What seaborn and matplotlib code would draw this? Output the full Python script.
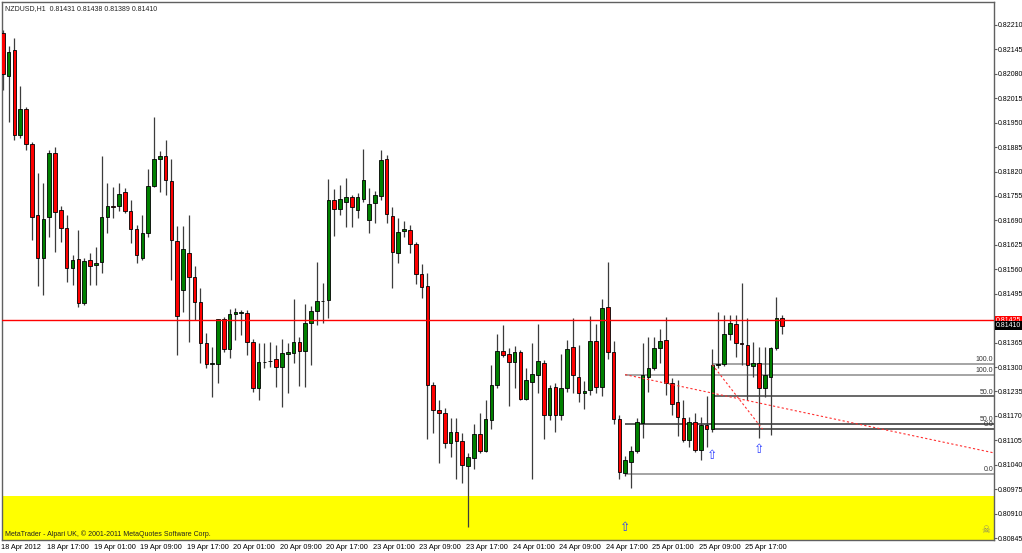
import numpy as np
import pandas as pd
import seaborn as sns
import matplotlib
matplotlib.use('Agg')
import matplotlib.pyplot as plt
import matplotlib.transforms as mtrans

# NZDUSD H1 bars, 18 Apr 2012 09:00 .. 25 Apr 2012 23:00
opens = [0.82189, 0.82074, 0.82144, 0.81917, 0.81987, 0.81893, 0.81705, 0.81590, 0.81699, 0.81869,
         0.81718, 0.81670, 0.81564, 0.81588, 0.81471, 0.81585, 0.81572, 0.81580, 0.81699, 0.81729,
         0.81729, 0.81766, 0.81715, 0.81667, 0.81590, 0.81657, 0.81782, 0.81854, 0.81862, 0.81795,
         0.81635, 0.81505, 0.81604, 0.81540, 0.81473, 0.81364, 0.81308, 0.81308, 0.81428, 0.81348,
         0.81441, 0.81444, 0.81444, 0.81367, 0.81244, 0.81314, 0.81316, 0.81322, 0.81300, 0.81335,
         0.81338, 0.81367, 0.81343, 0.81417, 0.81449, 0.81476, 0.81478, 0.81744, 0.81721, 0.81739,
         0.81752, 0.81718, 0.81747, 0.81691, 0.81737, 0.81755, 0.81854, 0.81702, 0.81604, 0.81662,
         0.81665, 0.81627, 0.81548, 0.81516, 0.81252, 0.81186, 0.81178, 0.81098, 0.81127, 0.81103,
         0.81037, 0.81058, 0.81122, 0.81077, 0.81159, 0.81252, 0.81343, 0.81335, 0.81314, 0.81340,
         0.81215, 0.81260, 0.81279, 0.81311, 0.81173, 0.81247, 0.81173, 0.81244, 0.81353, 0.81274,
         0.81231, 0.81239, 0.81369, 0.81247, 0.81460, 0.81340, 0.81162, 0.81018, 0.81048, 0.81077,
         0.81151, 0.81274, 0.81298, 0.81351, 0.81372, 0.81258, 0.81207, 0.81165, 0.81106, 0.81154,
         0.81080, 0.81146, 0.81135, 0.81306, 0.81308, 0.81388, 0.81415, 0.81364, 0.81359, 0.81303,
         0.81311, 0.81244, 0.81274, 0.81351, 0.81431]
highs = [0.82197, 0.82154, 0.82175, 0.82048, 0.81992, 0.81899, 0.81816, 0.81790, 0.81877, 0.81885,
         0.81729, 0.81705, 0.81598, 0.81665, 0.81590, 0.81604, 0.81619, 0.81862, 0.81790, 0.81779,
         0.81790, 0.81776, 0.81744, 0.81678, 0.81705, 0.81827, 0.81965, 0.81875, 0.81904, 0.81854,
         0.81675, 0.81675, 0.81705, 0.81569, 0.81510, 0.81391, 0.81353, 0.81428, 0.81433, 0.81455,
         0.81457, 0.81452, 0.81452, 0.81375, 0.81364, 0.81364, 0.81367, 0.81359, 0.81375, 0.81364,
         0.81481, 0.81380, 0.81468, 0.81463, 0.81580, 0.81524, 0.81800, 0.81774, 0.81784, 0.81803,
         0.81758, 0.81763, 0.81880, 0.81776, 0.81768, 0.81877, 0.81864, 0.81726, 0.81697, 0.81689,
         0.81678, 0.81633, 0.81574, 0.81550, 0.81260, 0.81212, 0.81191, 0.81165, 0.81165, 0.81125,
         0.81072, 0.81149, 0.81178, 0.81212, 0.81306, 0.81388, 0.81412, 0.81351, 0.81356, 0.81345,
         0.81298, 0.81364, 0.81415, 0.81319, 0.81252, 0.81258, 0.81335, 0.81372, 0.81431, 0.81359,
         0.81263, 0.81436, 0.81415, 0.81481, 0.81580, 0.81369, 0.81173, 0.81064, 0.81090, 0.81165,
         0.81364, 0.81380, 0.81380, 0.81401, 0.81433, 0.81271, 0.81266, 0.81212, 0.81167, 0.81178,
         0.81167, 0.81223, 0.81348, 0.81447, 0.81439, 0.81439, 0.81439, 0.81524, 0.81431, 0.81367,
         0.81353, 0.81353, 0.81353, 0.81486, 0.81438]
lows = [0.82037, 0.81952, 0.81904, 0.81909, 0.81877, 0.81638, 0.81516, 0.81492, 0.81646, 0.81606,
        0.81633, 0.81526, 0.81518, 0.81460, 0.81465, 0.81518, 0.81518, 0.81550, 0.81657, 0.81697,
        0.81715, 0.81710, 0.81630, 0.81577, 0.81585, 0.81646, 0.81779, 0.81766, 0.81758, 0.81532,
        0.81332, 0.81447, 0.81367, 0.81425, 0.81311, 0.81298, 0.81220, 0.81258, 0.81340, 0.81324,
        0.81372, 0.81385, 0.81332, 0.81234, 0.81212, 0.81298, 0.81300, 0.81247, 0.81194, 0.81231,
        0.81311, 0.81250, 0.81247, 0.81306, 0.81412, 0.81417, 0.81431, 0.81649, 0.81705, 0.81673,
        0.81673, 0.81697, 0.81739, 0.81657, 0.81683, 0.81744, 0.81683, 0.81510, 0.81577, 0.81646,
        0.81604, 0.81521, 0.81484, 0.81109, 0.81125, 0.81045, 0.81085, 0.81061, 0.81002, 0.80992,
        0.80875, 0.81029, 0.81072, 0.81074, 0.81135, 0.81244, 0.81327, 0.81197, 0.81244, 0.81212,
        0.81212, 0.81002, 0.81231, 0.81109, 0.81159, 0.81127, 0.81159, 0.81234, 0.81231, 0.81207,
        0.81189, 0.81226, 0.81231, 0.81223, 0.81322, 0.81149, 0.81002, 0.81010, 0.80978, 0.81072,
        0.81111, 0.81234, 0.81292, 0.81311, 0.81226, 0.81173, 0.81117, 0.81101, 0.81087, 0.81074,
        0.81053, 0.81087, 0.81127, 0.81298, 0.81303, 0.81372, 0.81327, 0.81306, 0.81212, 0.81274,
        0.81111, 0.81220, 0.81119, 0.81345, 0.81389]
closes = [0.82080, 0.82138, 0.81917, 0.81987, 0.81893, 0.81699, 0.81590, 0.81694, 0.81869, 0.81713,
          0.81670, 0.81564, 0.81585, 0.81471, 0.81582, 0.81569, 0.81577, 0.81699, 0.81729, 0.81726,
          0.81760, 0.81715, 0.81667, 0.81598, 0.81657, 0.81782, 0.81854, 0.81862, 0.81798, 0.81638,
          0.81436, 0.81614, 0.81540, 0.81473, 0.81364, 0.81308, 0.81311, 0.81428, 0.81348, 0.81441,
          0.81447, 0.81444, 0.81367, 0.81244, 0.81314, 0.81313, 0.81315, 0.81300, 0.81338, 0.81340,
          0.81367, 0.81343, 0.81417, 0.81449, 0.81476, 0.81475, 0.81744, 0.81721, 0.81747, 0.81752,
          0.81726, 0.81752, 0.81798, 0.81734, 0.81758, 0.81851, 0.81707, 0.81606, 0.81659, 0.81667,
          0.81627, 0.81548, 0.81513, 0.81252, 0.81186, 0.81178, 0.81098, 0.81127, 0.81103, 0.81040,
          0.81061, 0.81122, 0.81077, 0.81162, 0.81252, 0.81343, 0.81332, 0.81314, 0.81340, 0.81215,
          0.81266, 0.81282, 0.81316, 0.81173, 0.81244, 0.81173, 0.81244, 0.81348, 0.81279, 0.81231,
          0.81236, 0.81369, 0.81247, 0.81457, 0.81340, 0.81162, 0.81021, 0.81053, 0.81077, 0.81154,
          0.81279, 0.81298, 0.81351, 0.81369, 0.81258, 0.81202, 0.81167, 0.81106, 0.81154, 0.81080,
          0.81146, 0.81135, 0.81306, 0.81308, 0.81388, 0.81417, 0.81364, 0.81361, 0.81306, 0.81311,
          0.81244, 0.81279, 0.81351, 0.81431, 0.81410]

time_labels = ['18 Apr 2012', '18 Apr 17:00', '19 Apr 01:00', '19 Apr 09:00', '19 Apr 17:00',
               '20 Apr 01:00', '20 Apr 09:00', '20 Apr 17:00', '23 Apr 01:00', '23 Apr 09:00',
               '23 Apr 17:00', '24 Apr 01:00', '24 Apr 09:00', '24 Apr 17:00', '25 Apr 01:00',
               '25 Apr 09:00', '25 Apr 17:00']
price_ticks = [0.82210, 0.82145, 0.82080, 0.82015, 0.81950, 0.81885, 0.81820, 0.81755, 0.81690,
               0.81625, 0.81560, 0.81495, 0.81430, 0.81365, 0.81300, 0.81235, 0.81170, 0.81105,
               0.81040, 0.80975, 0.80910, 0.80845]

hline_price = 0.81425
bid_price = 0.81410
zone_top = 0.80957

# two fibo retracements: start bar, level price, label
fibo_start = [107, 107, 107, 122, 122, 122]
fibo_price = [0.81280, 0.81148, 0.81016, 0.81308, 0.81222, 0.81135]
fibo_label = ['100.0', '50.0', '0.0', '100.0', '50.0', '0.0']
fibo_color = ['#8c8c8c', '#303030', '#8c8c8c', '#8c8c8c', '#404040', '#303030']

# dashed trend lines
trend_x0 = [107, 122]
trend_y0 = [0.81280, 0.81306]
trend_x1 = [170.3, 130.6]
trend_y1 = [0.81072, 0.81135]

arrow_bar = [107, 122, 130]
arrow_price = [0.80872, 0.81066, 0.81080]

df = pd.DataFrame({'open': opens, 'high': highs, 'low': lows, 'close': closes})
df['bar'] = np.arange(len(df))
df['bull'] = df['close'] >= df['open']

sns.set_theme(style='white')
plt.rcParams['font.family'] = ['Liberation Sans', 'DejaVu Sans']

W, H = 1022, 553
fig = plt.figure(figsize=(W / 100, H / 100), dpi=100, facecolor='white')
ax = fig.add_axes([2 / W, 13 / H, 992 / W, 538 / H])
xmax = 170.4
ax.set_xlim(-0.12, xmax)
ax.set_ylim(0.80840, 0.82271)

ax.axhspan(0.80800, zone_top, color='#ffff00', zorder=0, lw=0)

ax.vlines(df['bar'], df['low'], df['high'], color='#3c3c3c', lw=0.9, zorder=2)
body_lo = df[['open', 'close']].min(axis=1)
body_h = (df['close'] - df['open']).abs().clip(lower=0.000012)
ax.bar(df['bar'], body_h, bottom=body_lo, width=0.62,
       color=np.where(df['bull'], '#008000', '#ff0000'),
       edgecolor='black', linewidth=0.6, zorder=3)

ax.axhline(hline_price, color='#ff0000', lw=1, zorder=4)

for s, p, lab, c in zip(fibo_start, fibo_price, fibo_label, fibo_color):
    ax.hlines(p, s, xmax, color=c, lw=1.1, zorder=1)
    ax.text(xmax - 0.15, p + 0.00002, lab, ha='right', va='bottom', fontsize=5.0,
            color='#333333', zorder=5)
ax.vlines(122, 0.81135, 0.81308, color='#8c8c8c', lw=1, zorder=1)

for x0, y0, x1, y1 in zip(trend_x0, trend_y0, trend_x1, trend_y1):
    ax.plot([x0, x1], [y0, y1], color='#ff3030', lw=0.8, ls=(0, (2, 2)), zorder=4)

for b, p in zip(arrow_bar, arrow_price):
    ax.text(b, p, '\u21e7', ha='center', va='center', fontsize=9, color='#2a3cff',
            family='DejaVu Sans', zorder=5)

ax.set_xticks(np.arange(0, len(df), 8))
ax.set_xticklabels(time_labels, ha='left', fontsize=5.3)
ax.set_yticks(price_ticks)
ax.set_yticklabels(['' if abs(p - 0.81430) < 1e-7 else f'{p:.5f}' for p in price_ticks],
                   fontsize=5.0)
ax.yaxis.tick_right()
ax.tick_params(axis='both', direction='out', length=2.5, width=0.8, color='#606060',
               labelcolor='black', pad=0.5)
offs = mtrans.ScaledTranslation(-1.5 / 72, 0, fig.dpi_scale_trans)
for lab in ax.get_xticklabels():
    lab.set_transform(lab.get_transform() + offs)

for sp in ax.spines.values():
    sp.set_color('#606060')
    sp.set_linewidth(1)
    sp.set_visible(True)

blend = mtrans.blended_transform_factory(ax.transAxes, ax.transData)
ax.text(1.002, hline_price, '0.81425', transform=blend, ha='left', va='center', fontsize=5.0,
        color='white', bbox=dict(boxstyle='square,pad=0.15', fc='#ff0000', ec='none'), zorder=6,
        clip_on=False)
ax.text(1.002, bid_price, '0.81410', transform=blend, ha='left', va='center', fontsize=5.0,
        color='white', bbox=dict(boxstyle='square,pad=0.15', fc='black', ec='none'), zorder=6,
        clip_on=False)

fig.text(5 / W, 1 - 9 / H, 'NZDUSD,H1  0.81431 0.81438 0.81389 0.81410', fontsize=5.0,
         color='#222222', va='center', ha='left')
fig.text(5 / W, 1 - 534 / H, 'MetaTrader - Alpari UK, \u00a9 2001-2011 MetaQuotes Software Corp.',
         fontsize=5.0, color='#222222', va='center', ha='left')
fig.text(986 / W, 1 - 530 / H, '\u2620', fontsize=7, color='#8a8a60', ha='center', va='center',
         family='DejaVu Sans')

fig.savefig('out.png', dpi=100, facecolor='white')
